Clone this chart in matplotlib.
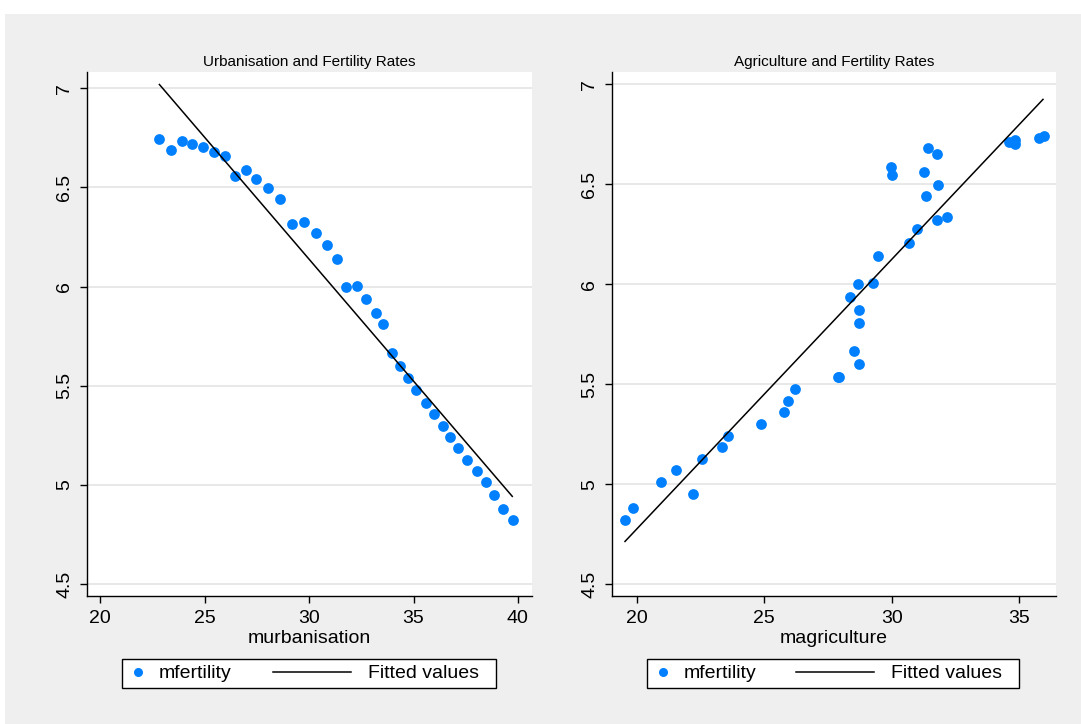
import matplotlib
matplotlib.use("Agg")
import matplotlib.pyplot as plt
import numpy as np
from matplotlib.legend_handler import HandlerLine2D
from matplotlib.lines import Line2D
from matplotlib.patches import Rectangle

plt.rcParams['font.family'] = ['Liberation Sans', 'DejaVu Sans']

# --- data ---
urban_x = [22.83, 23.37, 23.90, 24.38, 24.90, 25.45, 25.97, 26.47, 26.98, 27.46,
           28.02, 28.61, 29.20, 29.77, 30.33, 30.86, 31.32, 31.78, 32.29, 32.72,
           33.20, 33.55, 33.96, 34.35, 34.72, 35.12, 35.58, 35.97, 36.41, 36.76,
           37.15, 37.58, 38.03, 38.47, 38.87, 39.30, 39.75]
urban_fert = [6.743, 6.689, 6.733, 6.721, 6.703, 6.681, 6.656, 6.558, 6.587, 6.543,
              6.497, 6.444, 6.315, 6.328, 6.271, 6.212, 6.140, 5.997, 6.002, 5.938,
              5.869, 5.809, 5.664, 5.600, 5.538, 5.476, 5.411, 5.358, 5.298, 5.241,
              5.187, 5.125, 5.071, 5.013, 4.949, 4.878, 4.823]
urban_fit_x = [22.83, 39.73]
urban_fit_y = [7.019, 4.942]

agri_x = [29.98, 30.02, 31.43, 31.79, 31.28, 31.83, 31.36, 31.79, 32.18, 31.01,
          30.70, 29.47, 29.27, 28.68, 28.38, 28.72, 28.72, 28.53, 28.72, 27.88,
          27.95, 26.22, 25.95, 25.76, 24.86, 23.58, 23.36, 22.55, 21.53, 20.94,
          22.20, 19.85, 19.54, 34.62, 34.86, 34.86, 35.77, 35.96]
agri_fert = [6.587, 6.546, 6.681, 6.653, 6.561, 6.496, 6.442, 6.320, 6.335, 6.275,
             6.207, 6.140, 6.005, 6.002, 5.936, 5.871, 5.808, 5.664, 5.599, 5.536,
             5.536, 5.476, 5.414, 5.361, 5.300, 5.240, 5.185, 5.127, 5.072, 5.012,
             4.948, 4.880, 4.820, 6.710, 6.720, 6.700, 6.730, 6.740]
agri_fit_x = [19.54, 35.94]
agri_fit_y = [4.713, 6.925]

yticks = [4.5, 5, 5.5, 6, 6.5, 7]
ytick_labels = ['4.5', '5', '5.5', '6', '6.5', '7']
urban_xticks = [20, 25, 30, 35, 40]
agri_xticks = [20, 25, 30, 35]

dot_color = '#0080ff'
W, H = 1081, 724


class LongLineHandler(HandlerLine2D):
    # fitted-values line in the legend is longer than the marker slot
    def get_xdata(self, legend, xdescent, ydescent, width, height, fontsize):
        x_end = -xdescent + width - 0.3 * fontsize
        xdata = np.array([x_end - 4.0 * fontsize, x_end])
        return xdata, xdata


fig = plt.figure(figsize=(W / 100, H / 100), dpi=100, facecolor='white')
fig.patches.append(Rectangle((5 / W, 0), 1, (H - 14) / H, transform=fig.transFigure,
                             facecolor='#efefef', edgecolor='none', zorder=-10))


def panel(left_px, right_px, xlim, ylim, xs, ys, fx, fy, xticks, title, xlabel, leg_px):
    ax = fig.add_axes([left_px / W, 1 - 596 / H, (right_px - left_px) / W, (596 - 72) / H])
    ax.set_facecolor('white')
    ax.scatter(xs, ys, s=60, color=dot_color, linewidths=0, zorder=3)
    ax.plot(fx, fy, color='black', lw=1.1, zorder=4)
    ax.set_xlim(*xlim)
    ax.set_ylim(*ylim)
    ax.set_xticks(xticks)
    ax.set_xticklabels([str(t) for t in xticks])
    ax.set_yticks(yticks)
    ax.set_yticklabels(ytick_labels, rotation=90, va='center')
    ax.tick_params(axis='both', length=5, width=1, labelsize=14, color='black')
    ax.tick_params(axis='x', pad=5)
    ax.tick_params(axis='y', pad=5)
    ax.yaxis.grid(True, color='#e8e8e8', lw=1.4)
    ax.set_axisbelow(True)
    for s in ['top', 'right']:
        ax.spines[s].set_visible(False)
    for s in ['left', 'bottom']:
        ax.spines[s].set_color('black')
        ax.spines[s].set_linewidth(1)
    ax.set_title(title, fontsize=11, pad=4)
    ax.set_xlabel(xlabel, fontsize=14, labelpad=2)

    dot = Line2D([], [], ls='none', marker='o', color=dot_color, markersize=6.5,
                 markeredgewidth=0)
    fit = Line2D([], [], color='black', lw=1.1)
    x0, x1, y0, y1 = leg_px
    # trailing spaces leave the wider right margin of the original legend box
    leg = ax.legend([dot, fit], ['mfertility', 'Fitted values  '], loc='center',
                    bbox_to_anchor=(x0 / W, 1 - y1 / H, (x1 - x0) / W, (y1 - y0) / H),
                    bbox_transform=fig.transFigure, mode='expand', ncol=2,
                    borderaxespad=0, borderpad=0.3, handlelength=1.0,
                    handletextpad=0.6, fancybox=False, edgecolor='black',
                    framealpha=1, fontsize=14, handler_map={fit: LongLineHandler()})
    leg.get_frame().set_linewidth(1.0)
    return ax


panel(87, 532, (19.363, 40.675), (4.4395, 7.082), urban_x, urban_fert,
      urban_fit_x, urban_fit_y, urban_xticks, 'Urbanisation and Fertility Rates',
      'murbanisation', (122, 496, 656, 691))
panel(612, 1056, (19.03, 36.45), (4.44, 7.062), agri_x, agri_fert,
      agri_fit_x, agri_fit_y, agri_xticks, 'Agriculture and Fertility Rates',
      'magriculture', (647, 1019, 657, 690))

fig.savefig('out.png', dpi=100, facecolor=fig.get_facecolor())
